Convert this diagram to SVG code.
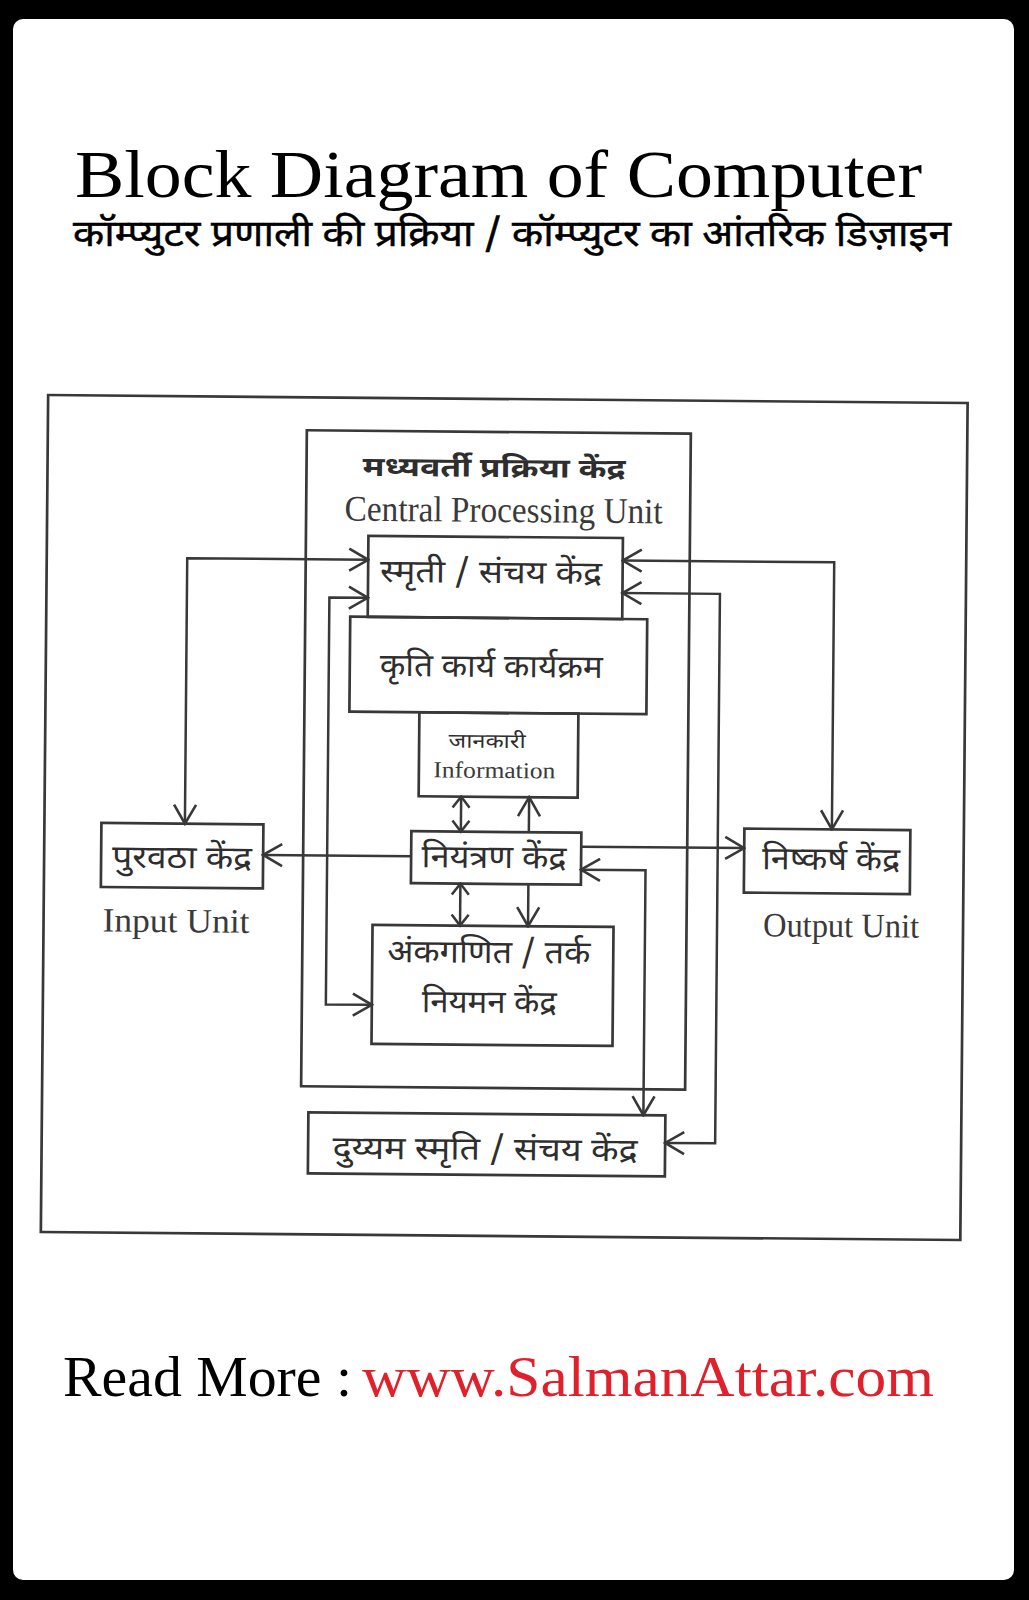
<svg xmlns="http://www.w3.org/2000/svg" width="1029" height="1600" viewBox="0 0 1029 1600">
<style>
.box{fill:none;stroke:#383838;stroke-width:2.7}
.con{fill:none;stroke:#383838;stroke-width:2.5}
.dv{font-family:"Noto Sans Devanagari","Lohit Devanagari","Noto Serif Devanagari","Noto Sans",sans-serif;fill:#2e2e2e;text-anchor:middle}
.en{font-family:"Liberation Serif","Times New Roman",serif;fill:#3a3a3a;text-anchor:middle}
</style>
<defs>
<marker id="ah" markerUnits="userSpaceOnUse" viewBox="-22 -13 24 26" refX="0" refY="0" markerWidth="24" markerHeight="26" orient="auto-start-reverse">
<path d="M -19,-11 L 0,0 L -19,11" fill="none" stroke="#383838" stroke-width="2.6"/>
</marker>
<marker id="ahs" markerUnits="userSpaceOnUse" viewBox="-14 -11 16 22" refX="0" refY="0" markerWidth="16" markerHeight="22" orient="auto-start-reverse">
<path d="M -11,-8.5 L 0,0 L -11,8.5" fill="none" stroke="#383838" stroke-width="2.5"/>
</marker>
</defs>
<rect x="0" y="0" width="1029" height="1600" fill="#000"/>
<rect x="13" y="19" width="1001" height="1561" rx="10" fill="#fff"/>
<g id="title">
<text x="75" y="197" font-family="Liberation Serif,serif" font-size="68" fill="#000" textLength="847" lengthAdjust="spacingAndGlyphs">Block Diagram of Computer</text>
<text x="73" y="246" font-family="Noto Sans Devanagari,Lohit Devanagari,Noto Sans,sans-serif" font-size="37" fill="#000" stroke="#000" stroke-width="0.5" textLength="878" lengthAdjust="spacingAndGlyphs">कॉम्प्युटर प्रणाली की प्रक्रिया / कॉम्प्युटर का आंतरिक डिज़ाइन</text>
</g>
<g transform="rotate(0.5 505 815)">
<g id="outer"><rect class="box" x="44.5" y="399" width="919.5" height="837"/></g>
<g id="cpu">
<rect class="box" x="303.5" y="432" width="384" height="656"/>
<text class="dv" x="491" y="477" font-size="27" font-weight="bold" textLength="263" lengthAdjust="spacingAndGlyphs">मध्यवर्ती प्रक्रिया केंद्र</text>
<text class="en" x="501" y="522" font-size="36" textLength="318" lengthAdjust="spacingAndGlyphs">Central Processing Unit</text>
</g>
<g id="memory">
<rect class="box" x="366" y="537" width="254.5" height="81"/>
<text class="dv" x="489" y="583" font-size="32" textLength="222" lengthAdjust="spacingAndGlyphs">स्मृती / संचय केंद्र</text>
</g>
<g id="program">
<rect class="box" x="348.5" y="618" width="297" height="95"/>
<text class="dv" x="490" y="677" font-size="32" textLength="223" lengthAdjust="spacingAndGlyphs">कृति कार्य कार्यक्रम</text>
</g>
<g id="information">
<rect class="box" x="418.5" y="713" width="159" height="84"/>
<text class="dv" x="486.5" y="748" font-size="20" textLength="77" lengthAdjust="spacingAndGlyphs">जानकारी</text>
<text class="en" x="494" y="778" font-size="23" fill="#222" textLength="122" lengthAdjust="spacingAndGlyphs">Information</text>
</g>
<g id="control">
<rect class="box" x="411.5" y="832" width="170" height="52"/>
<text class="dv" x="494.5" y="868" font-size="32" textLength="145" lengthAdjust="spacingAndGlyphs">नियंत्रण केंद्र</text>
</g>
<g id="alu">
<rect class="box" x="373.5" y="926" width="241" height="119"/>
<text class="dv" x="490" y="963" font-size="32" textLength="203" lengthAdjust="spacingAndGlyphs">अंकगणित / तर्क</text>
<text class="dv" x="491" y="1013" font-size="32" textLength="135" lengthAdjust="spacingAndGlyphs">नियमन केंद्र</text>
</g>
<g id="input">
<rect class="box" x="101.5" y="826.5" width="162" height="64"/>
<text class="dv" x="182.5" y="871" font-size="32" textLength="140" lengthAdjust="spacingAndGlyphs">पुरवठा केंद्र</text>
<text class="en" x="177" y="935" font-size="34" textLength="147" lengthAdjust="spacingAndGlyphs">Input Unit</text>
</g>
<g id="output">
<rect class="box" x="744.5" y="826.5" width="166" height="64"/>
<text class="dv" x="831.5" y="867" font-size="32" textLength="138" lengthAdjust="spacingAndGlyphs">निष्कर्ष केंद्र</text>
<text class="en" x="842" y="934" font-size="34" textLength="156" lengthAdjust="spacingAndGlyphs">Output Unit</text>
</g>
<g id="secondary">
<rect class="box" x="311" y="1114" width="357" height="61"/>
<text class="dv" x="488" y="1160" font-size="32" textLength="305" lengthAdjust="spacingAndGlyphs">दुय्यम स्मृति / संचय केंद्र</text>
</g>
<g id="connectors">
<path class="con" d="M 366,561 H 185 V 826.5" marker-start="url(#ah)" marker-end="url(#ah)"/>
<path class="con" d="M 620.5,559.5 H 832 V 826.5" marker-start="url(#ah)" marker-end="url(#ah)"/>
<path class="con" d="M 366,599 H 327.5 V 1006 H 373.5" marker-start="url(#ah)" marker-end="url(#ah)"/>
<path class="con" d="M 620.5,592 H 718 V 1141.5 H 668" marker-start="url(#ah)" marker-end="url(#ah)"/>
<path class="con" d="M 411.5,857 H 263.5" marker-end="url(#ah)"/>
<path class="con" d="M 581.5,846 H 744.5" marker-end="url(#ah)"/>
<path class="con" d="M 461,797 V 832" marker-start="url(#ahs)" marker-end="url(#ahs)"/>
<path class="con" d="M 529,832 V 797" marker-end="url(#ah)"/>
<path class="con" d="M 461,884 V 926" marker-start="url(#ahs)" marker-end="url(#ahs)"/>
<path class="con" d="M 529,884 V 926" marker-end="url(#ah)"/>
<path class="con" d="M 581.5,869 H 646 V 1114" marker-start="url(#ah)" marker-end="url(#ah)"/>
</g>
</g>
<g id="footer">
<text x="63" y="1396" font-family="Liberation Serif,serif" font-size="56" fill="#000" textLength="289" lengthAdjust="spacingAndGlyphs">Read More :</text>
<text x="362" y="1396" font-family="Liberation Serif,serif" font-size="56" fill="#e0202a" textLength="572" lengthAdjust="spacingAndGlyphs">www.SalmanAttar.com</text>
</g>
</svg>
